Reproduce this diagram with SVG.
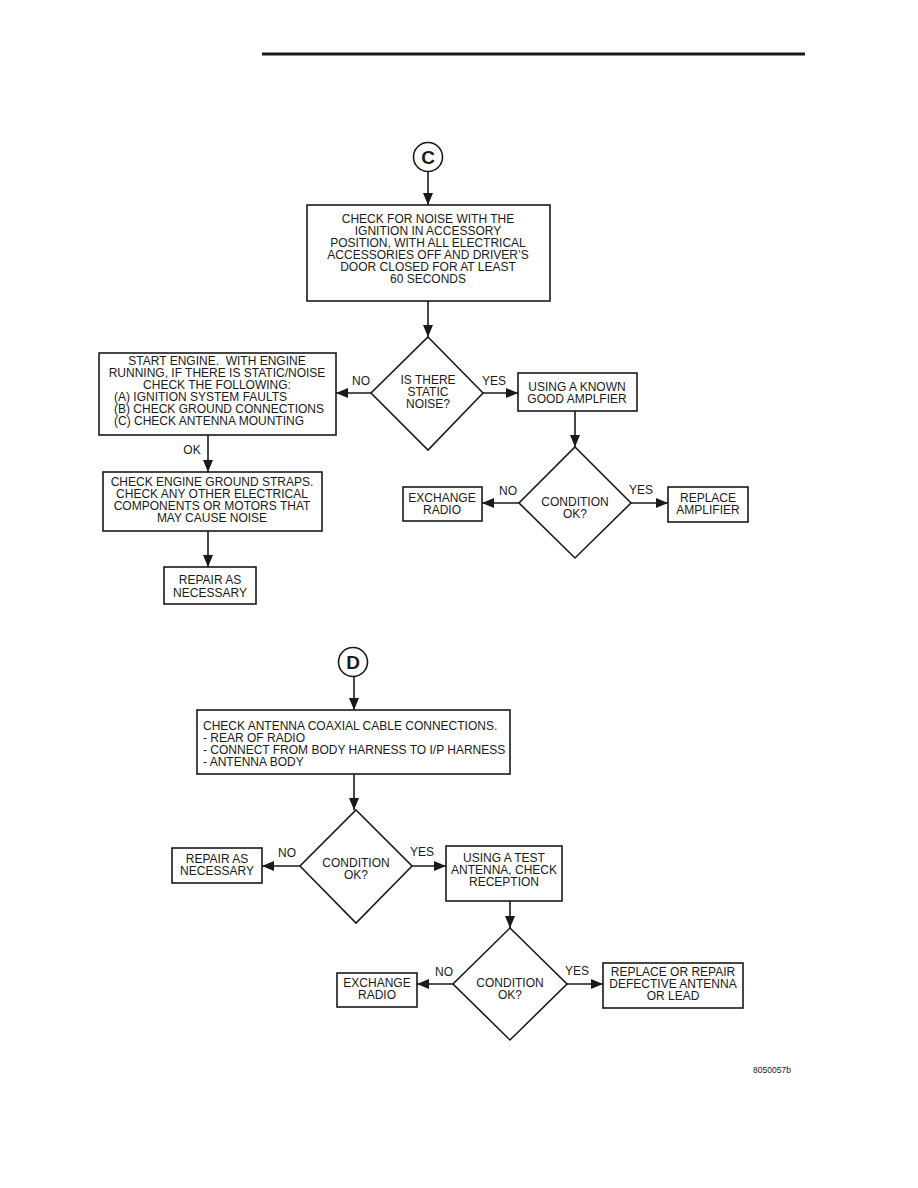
<svg xmlns="http://www.w3.org/2000/svg" width="918" height="1188" viewBox="0 0 918 1188">
<defs>
<marker id="ah" markerUnits="userSpaceOnUse" markerWidth="12" markerHeight="10" refX="12" refY="5" orient="auto">
<path d="M0,0 L12,5 L0,10 z" fill="#1a1a1a"/>
</marker>
<style>
.b{fill:#fff;stroke:#1a1a1a;stroke-width:1.6}
.t{font-family:"Liberation Sans",Arial,sans-serif;font-size:12px;fill:#1a1a1a;text-anchor:middle}
.l{text-anchor:start}
.c{font-family:"Liberation Sans",Arial,sans-serif;font-size:19px;font-weight:bold;fill:#1a1a1a;text-anchor:middle}
.e{fill:none;stroke:#1a1a1a;stroke-width:1.6;marker-end:url(#ah)}
</style>
</defs>
<rect width="918" height="1188" fill="#fff"/>
<line x1="262" y1="54" x2="805" y2="54" stroke="#1a1a1a" stroke-width="3"/>

<g id="connectors">
<line class="e" x1="428" y1="172" x2="428" y2="205"/>
<line class="e" x1="428" y1="301" x2="428" y2="337"/>
<line class="e" x1="371" y1="393" x2="336" y2="393"/>
<line class="e" x1="483" y1="393" x2="518" y2="393"/>
<line class="e" x1="208" y1="435" x2="208" y2="472"/>
<line class="e" x1="208" y1="531" x2="208" y2="567"/>
<line class="e" x1="575" y1="411" x2="575" y2="447"/>
<line class="e" x1="519" y1="503" x2="482" y2="503"/>
<line class="e" x1="631" y1="503" x2="668" y2="503"/>
<line class="e" x1="354" y1="677" x2="354" y2="710"/>
<line class="e" x1="354" y1="774" x2="354" y2="810"/>
<line class="e" x1="300" y1="866" x2="262" y2="866"/>
<line class="e" x1="412" y1="866" x2="446" y2="866"/>
<line class="e" x1="510" y1="901" x2="510" y2="928"/>
<line class="e" x1="453" y1="984" x2="417" y2="984"/>
<line class="e" x1="567" y1="984" x2="603" y2="984"/>
<text class="t" x="361" y="385">NO</text>
<text class="t" x="494" y="385">YES</text>
<text class="t" x="192" y="454">OK</text>
<text class="t" x="508" y="495">NO</text>
<text class="t" x="641" y="494">YES</text>
<text class="t" x="287" y="857">NO</text>
<text class="t" x="422" y="856">YES</text>
<text class="t" x="444" y="976">NO</text>
<text class="t" x="577" y="975">YES</text>
</g>

<g id="circleC">
<circle cx="428" cy="157" r="14.5" fill="#fff" stroke="#1a1a1a" stroke-width="1.6"/>
<text class="c" x="428" y="164">C</text>
</g>

<g id="box1">
<rect class="b" x="307" y="205" width="243" height="96"/>
<text class="t" x="428" y="223">CHECK FOR NOISE WITH THE</text>
<text class="t" x="428" y="235">IGNITION IN ACCESSORY</text>
<text class="t" x="428" y="247">POSITION, WITH ALL ELECTRICAL</text>
<text class="t" x="428" y="259">ACCESSORIES OFF AND DRIVER’S</text>
<text class="t" x="428" y="271">DOOR CLOSED FOR AT LEAST</text>
<text class="t" x="428" y="283">60 SECONDS</text>
</g>

<g id="diamond1">
<polygon class="b" points="428,337 483,393 428,450 371,393"/>
<text class="t" x="428" y="384">IS THERE</text>
<text class="t" x="428" y="396">STATIC</text>
<text class="t" x="428" y="408">NOISE?</text>
</g>

<g id="boxStart">
<rect class="b" x="99" y="353" width="237" height="82"/>
<text class="t" x="217" y="365">START ENGINE.&#160; WITH ENGINE</text>
<text class="t" x="217" y="377">RUNNING, IF THERE IS STATIC/NOISE</text>
<text class="t" x="217" y="389">CHECK THE FOLLOWING:</text>
<text class="t l" x="114" y="401">(A) IGNITION SYSTEM FAULTS</text>
<text class="t l" x="114" y="413">(B) CHECK GROUND CONNECTIONS</text>
<text class="t l" x="114" y="425">(C) CHECK ANTENNA MOUNTING</text>
</g>

<g id="boxGround">
<rect class="b" x="103" y="472" width="219" height="59"/>
<text class="t" x="212" y="486">CHECK ENGINE GROUND STRAPS.</text>
<text class="t" x="212" y="498">CHECK ANY OTHER ELECTRICAL</text>
<text class="t" x="212" y="510">COMPONENTS OR MOTORS THAT</text>
<text class="t" x="212" y="522">MAY CAUSE NOISE</text>
</g>

<g id="boxRepair1">
<rect class="b" x="164" y="567" width="92" height="37"/>
<text class="t" x="210" y="584">REPAIR AS</text>
<text class="t" x="210" y="597">NECESSARY</text>
</g>

<g id="boxAmp">
<rect class="b" x="518" y="373" width="119" height="38"/>
<text class="t" x="577" y="391">USING A KNOWN</text>
<text class="t" x="577" y="403">GOOD AMPLFIER</text>
</g>

<g id="diamond2">
<polygon class="b" points="575,447 631,503 575,558 519,503"/>
<text class="t" x="575" y="506">CONDITION</text>
<text class="t" x="575" y="518">OK?</text>
</g>

<g id="boxExchange1">
<rect class="b" x="403" y="487" width="79" height="34"/>
<text class="t" x="442" y="502">EXCHANGE</text>
<text class="t" x="442" y="514">RADIO</text>
</g>

<g id="boxReplaceAmp">
<rect class="b" x="668" y="487" width="80" height="35"/>
<text class="t" x="708" y="502">REPLACE</text>
<text class="t" x="708" y="514">AMPLIFIER</text>
</g>

<g id="circleD">
<circle cx="353" cy="662" r="14.5" fill="#fff" stroke="#1a1a1a" stroke-width="1.6"/>
<text class="c" x="353" y="669">D</text>
</g>

<g id="boxCoax">
<rect class="b" x="197" y="710" width="313" height="64"/>
<text class="t l" x="203" y="730">CHECK ANTENNA COAXIAL CABLE CONNECTIONS.</text>
<text class="t l" x="203" y="742">- REAR OF RADIO</text>
<text class="t l" x="203" y="754">- CONNECT FROM BODY HARNESS TO I/P HARNESS</text>
<text class="t l" x="203" y="766">- ANTENNA BODY</text>
</g>

<g id="diamond3">
<polygon class="b" points="356,810 412,866 356,923 300,866"/>
<text class="t" x="356" y="867">CONDITION</text>
<text class="t" x="356" y="879">OK?</text>
</g>

<g id="boxRepair2">
<rect class="b" x="172" y="848" width="90" height="35"/>
<text class="t" x="217" y="863">REPAIR AS</text>
<text class="t" x="217" y="875">NECESSARY</text>
</g>

<g id="boxTest">
<rect class="b" x="446" y="846" width="116" height="55"/>
<text class="t" x="504" y="862">USING A TEST</text>
<text class="t" x="504" y="874">ANTENNA, CHECK</text>
<text class="t" x="504" y="886">RECEPTION</text>
</g>

<g id="diamond4">
<polygon class="b" points="510,928 567,984 510,1040 453,984"/>
<text class="t" x="510" y="987">CONDITION</text>
<text class="t" x="510" y="999">OK?</text>
</g>

<g id="boxExchange2">
<rect class="b" x="337" y="973" width="80" height="34"/>
<text class="t" x="377" y="987">EXCHANGE</text>
<text class="t" x="377" y="999">RADIO</text>
</g>

<g id="boxReplaceAnt">
<rect class="b" x="603" y="963" width="140" height="45"/>
<text class="t" x="673" y="976">REPLACE OR REPAIR</text>
<text class="t" x="673" y="988">DEFECTIVE ANTENNA</text>
<text class="t" x="673" y="1000">OR LEAD</text>
</g>

<text class="t" x="772" y="1073" style="font-size:8.5px">8050057b</text>
</svg>
